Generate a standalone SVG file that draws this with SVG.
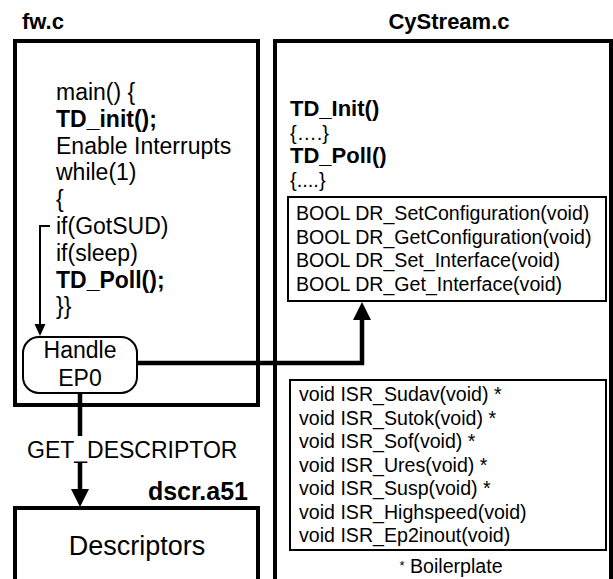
<svg xmlns="http://www.w3.org/2000/svg" width="613" height="579" viewBox="0 0 613 579">
<defs>
<marker id="ah-thick" markerUnits="userSpaceOnUse" markerWidth="18" markerHeight="18" viewBox="0 0 18 18" refX="4" refY="9" orient="auto"><path d="M0,0 L18,9 L0,18 z" fill="#000"/></marker>
<marker id="ah-thin" markerUnits="userSpaceOnUse" markerWidth="12" markerHeight="12" viewBox="0 0 12 12" refX="3" refY="6" orient="auto"><path d="M0,0.5 L12,6 L0,11.5 z" fill="#000"/></marker>
</defs>
<style>
text { font-family: "Liberation Sans", Arial, sans-serif; fill: #000; }
.title { font-weight: bold; font-size: 22px; }
.code { font-size: 23px; }
.b { font-weight: bold; }
.fn { font-size: 19.6px; }
.box { fill: #fff; stroke: #000; stroke-width: 4; }
.sub { fill: #fff; stroke: #000; stroke-width: 2; }
.thick { fill: none; stroke: #000; stroke-width: 4.5; }
.thin { fill: none; stroke: #000; stroke-width: 2; }
</style>
<rect width="613" height="579" fill="#fff"/>

<g id="fwc">
<text class="title" x="22" y="29">fw.c</text>
<rect class="box" x="15" y="41" width="243" height="364"/>
<g class="code">
<text x="56" y="100">main() {</text>
<text x="56" y="127" class="b">TD_init();</text>
<text x="56" y="154">Enable Interrupts</text>
<text x="56" y="180">while(1)</text>
<text x="56" y="207">{</text>
<text x="56" y="234">if(GotSUD)</text>
<text x="56" y="261">if(sleep)</text>
<text x="56" y="288" class="b">TD_Poll();</text>
<text x="56" y="314">}}</text>
</g>
</g>

<g id="handle-ep0">
<rect class="sub" x="23" y="337" width="114" height="56" rx="16"/>
<text class="code" x="80" y="358" text-anchor="middle">Handle</text>
<text class="code" x="80" y="386" text-anchor="middle">EP0</text>
</g>

<g id="cystream">
<text class="title" x="449" y="29" text-anchor="middle">CyStream.c</text>
<path class="box" d="M275,581 V41 H611 V581" fill="none"/>
<text x="290" y="116" class="b" font-size="22">TD_Init()</text>
<text x="290" y="140" font-size="20">{….}</text>
<text x="290" y="163" class="b" font-size="22">TD_Poll()</text>
<text x="290" y="187" font-size="20">{....}</text>
</g>

<g id="dr-box">
<rect class="sub" x="288" y="197" width="318" height="104"/>
<g class="fn">
<text x="296" y="220">BOOL DR_SetConfiguration(void)</text>
<text x="296" y="244">BOOL DR_GetConfiguration(void)</text>
<text x="296" y="267">BOOL DR_Set_Interface(void)</text>
<text x="296" y="291">BOOL DR_Get_Interface(void)</text>
</g>
</g>

<g id="isr-box">
<rect class="sub" x="290" y="380" width="316" height="170"/>
<g class="fn">
<text x="299" y="401">void ISR_Sudav(void) *</text>
<text x="299" y="425">void ISR_Sutok(void) *</text>
<text x="299" y="448">void ISR_Sof(void) *</text>
<text x="299" y="472">void ISR_Ures(void) *</text>
<text x="299" y="495">void ISR_Susp(void) *</text>
<text x="299" y="519">void ISR_Highspeed(void)</text>
<text x="299" y="542">void ISR_Ep2inout(void)</text>
</g>
<text x="451" y="573" text-anchor="middle" font-size="19.6"><tspan font-size="13" dy="-3">*</tspan><tspan dy="3"> Boilerplate</tspan></text>
</g>

<g id="dscr">
<text class="b" x="248" y="500" text-anchor="end" font-size="25">dscr.a51</text>
<path class="box" d="M15,581 V508 H258 V581" fill="none"/>
<text x="137" y="555" text-anchor="middle" font-size="27">Descriptors</text>
</g>

<g id="connectors">
<path class="thin" d="M50,226 H40 V327" marker-end="url(#ah-thin)"/>
<path class="thick" d="M137,363 H362 V316" marker-end="url(#ah-thick)"/>
<path class="thick" d="M80,393 V436"/>
<path class="thick" d="M80,463 V493" marker-end="url(#ah-thick)"/>
<text x="27" y="458" font-size="23">GET_DESCRIPTOR</text>
</g>
</svg>
